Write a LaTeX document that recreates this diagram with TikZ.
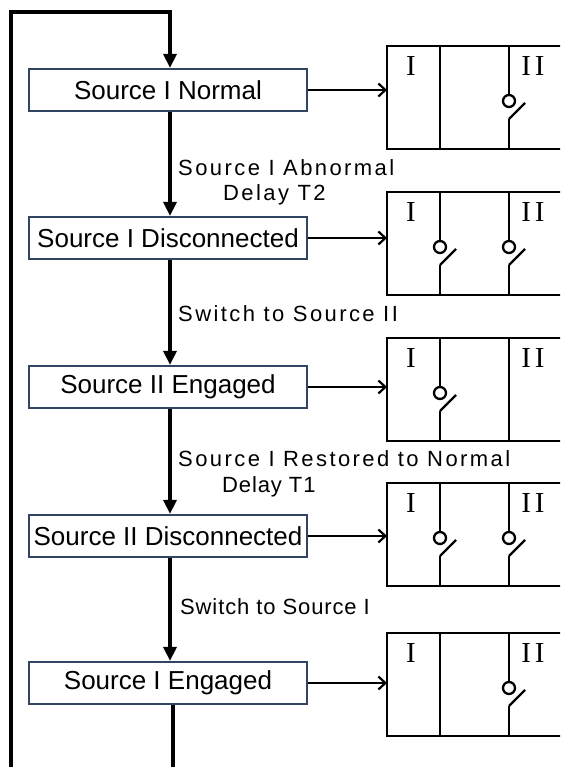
\documentclass[tikz,border=0pt]{standalone}
\usepackage{fontspec}
\setmainfont{Liberation Sans}
\newfontfamily\lblfont[LetterSpace=11]{Liberation Sans}
\newfontfamily\lbltight[LetterSpace=4]{Liberation Sans}
\newfontfamily\romfont{Liberation Serif}
\usetikzlibrary{arrows.meta}
\definecolor{boxc}{RGB}{47,69,98}
\tikzset{
  stbox/.style={draw=boxc, line width=2.2pt, minimum width=278pt, minimum height=42pt,
    inner sep=0pt, font=\fontsize{26}{30}\selectfont, fill=white},
  flow/.style={line width=3.2pt},
  flowarrow/.style={line width=3.2pt, -{Triangle[length=14pt,width=13pt]}},
  harrow/.style={line width=2.2pt, -{Straight Barb[length=7pt,width=13pt,line width=2.2pt]}},
  pline/.style={line width=2.3pt},
  lbl/.style={anchor=west, inner sep=0pt, font=\lblfont\fontsize{22}{26}\selectfont},
  lblt/.style={anchor=west, inner sep=0pt, font=\lbltight\fontsize{22}{26}\selectfont},
  romlbl/.style={inner sep=0pt, font=\romfont\fontsize{29}{30}\selectfont},
}
\newcommand\myswitch[3]{%
  \draw[pline] (#1,#2) -- (#1,#2+49);
  \draw[pline] (#1,#2+55) circle[radius=6pt];
  \draw[pline] (#1,#2+73) -- (#1+16,#2+57);
  \draw[pline] (#1,#2+73) -- (#1,#2+#3);
}
\newcommand\myplain[3]{%
  \draw[pline] (#1,#2) -- (#1,#2+#3);
}
\newcommand\mypanel[4]{%
  \draw[pline] (620,#1) -- (387,#1) -- (387,#1+103) -- (620,#1+103);
  \node[romlbl] at (411,#1+20) {I};
  \node[romlbl] at (533,#1+20) {I\kern4pt I};
  #2{440}{#1}{103}
  #3{509}{#1}{103}
  \coordinate (#4) at (387,#1+51);
}
\begin{document}
\begin{tikzpicture}[x=1pt,y=-1pt]
\useasboundingbox (0,0) rectangle (560,767);
\clip (0,0) rectangle (560,767);

% state boxes
\node[stbox] (b1) at (168,90)  {Source I Normal};
\node[stbox] (b2) at (168,238) {Source I Disconnected};
\node[stbox] (b3) at (168,387) {Source II Engaged};
\node[stbox] (b4) at (168,536) {Source II Disconnected};
\node[stbox] (b5) at (168,683) {Source I Engaged};

% panels
\mypanel{46}{\myplain}{\myswitch}{p1}
\mypanel{192}{\myswitch}{\myswitch}{p2}
\mypanel{338}{\myswitch}{\myplain}{p3}
\mypanel{483}{\myswitch}{\myswitch}{p4}
\mypanel{633}{\myplain}{\myswitch}{p5}

% horizontal arrows
\draw[harrow] (b1.east) -- (b1.east -| p1);
\draw[harrow] (b2.east) -- (b2.east -| p2);
\draw[harrow] (b3.east) -- (b3.east -| p3);
\draw[harrow] (b4.east) -- (b4.east -| p4);
\draw[harrow] (b5.east) -- (b5.east -| p5);

% vertical flow
\draw[flowarrow] ([xshift=2pt]b1.south) -- ([xshift=2pt]b2.north);
\draw[flowarrow] ([xshift=2pt]b2.south) -- ([xshift=2pt]b3.north);
\draw[flowarrow] ([xshift=2pt]b3.south) -- ([xshift=2pt]b4.north);
\draw[flowarrow] ([xshift=2pt]b4.south) -- ([xshift=2pt]b5.north);

% loop
\coordinate (lb) at (11,790);
\coordinate (lt) at (11,12);
\coordinate (in1) at ([xshift=2pt]b1.north);
\coordinate (bend) at (173,790);
\draw[flowarrow] (lb) -- (lt) -- (lt -| in1) -- (in1);
\draw[flow] ([xshift=5pt]b5.south) -- (bend);

% labels
\node[lbl] (l1) at (178,168) {Source I Abnormal};
\node[lbl] (l2) at (223,195) {Delay T2};
\node[lbl] (l3) at (178,314) {Switch to Source II};
\node[lbl] (l4) at (178,459) {Source I Restored to Normal};
\node[lblt] (l5) at (222,487) {Delay T1};
\node[lblt] (l6) at (180,607) {Switch to Source I};
\end{tikzpicture}
\end{document}
